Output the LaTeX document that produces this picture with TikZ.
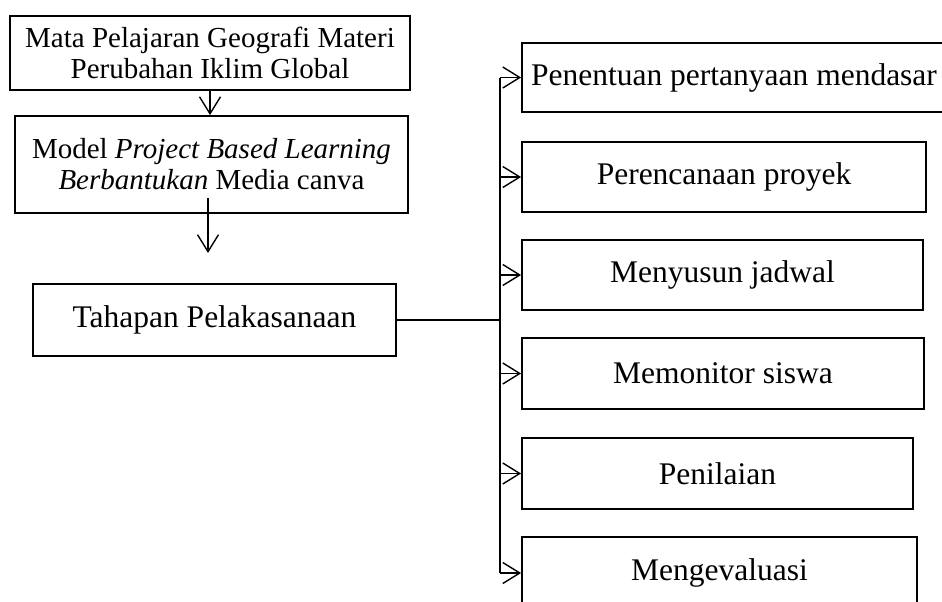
\documentclass[tikz,border=0pt]{standalone}
\usepackage{fontspec}
\setmainfont{Liberation Serif}
\usetikzlibrary{arrows.meta}
\begin{document}
\begin{tikzpicture}[x=1pt,y=-1pt,
  box/.style={draw,line width=1.8pt,inner sep=0pt,align=center},
  small/.style={font=\fontsize{29}{31}\selectfont},
  big/.style={font=\fontsize{31.5}{34}\selectfont},
  conn/.style={line width=1.4pt},
  arr/.style={line width=1.4pt,-{Straight Barb[length=17pt,width=21pt]}}]
\clip (0,0) rectangle (942,602);
\fill[white] (0,0) rectangle (942,602);
% left column
\node[box,small,minimum width=400pt,minimum height=74pt] (b1) at (210,53)
  {Mata Pelajaran Geografi Materi\\Perubahan Iklim Global};
\node[box,small,minimum width=393pt,minimum height=97pt] (b2) at (211.5,164.5)
  {Model \textit{Project Based Learning}\\\textit{Berbantukan} Media canva};
\node[box,big,minimum width=363pt,minimum height=72pt] (b3) at (214.5,320)
  {Tahapan Pelakasanaan};
% right column
\node[box,big,minimum width=424pt,minimum height=69pt] (bA) at (734,77.5)
  {Penentuan pertanyaan mendasar};
\node[box,big,minimum width=404pt,minimum height=70pt] (bB) at (724,177)
  {Perencanaan proyek};
\node[box,big,minimum width=401pt,minimum height=70pt] (bC) at (722.5,275)
  {Menyusun jadwal};
\node[box,big,minimum width=402pt,minimum height=71pt] (bD) at (723,373.5)
  {Memonitor siswa};
\node[box,big,minimum width=391pt,minimum height=71pt] (bE) at (717.5,473.5)
  {Penilaian};
\node[box,big,minimum width=395pt,minimum height=72pt] (bF) at (719.5,573)
  {Mengevaluasi};
% connectors
\coordinate (a2s) at (208,198);
\coordinate (a2e) at (208,253);
\coordinate (sp) at (500,320);
\draw[arr] (b1.south) -- (b1.south |- b2.north);
\draw[arr] (a2s) -- (a2e);
\draw[conn] (b3.east) -- (sp);
\draw[conn] (sp |- bA.west) -- (sp |- bF.west);
\foreach \n in {A,B,C,D,E,F}
  \draw[arr] (sp |- b\n.west) -- (b\n.west);
\end{tikzpicture}
\end{document}
